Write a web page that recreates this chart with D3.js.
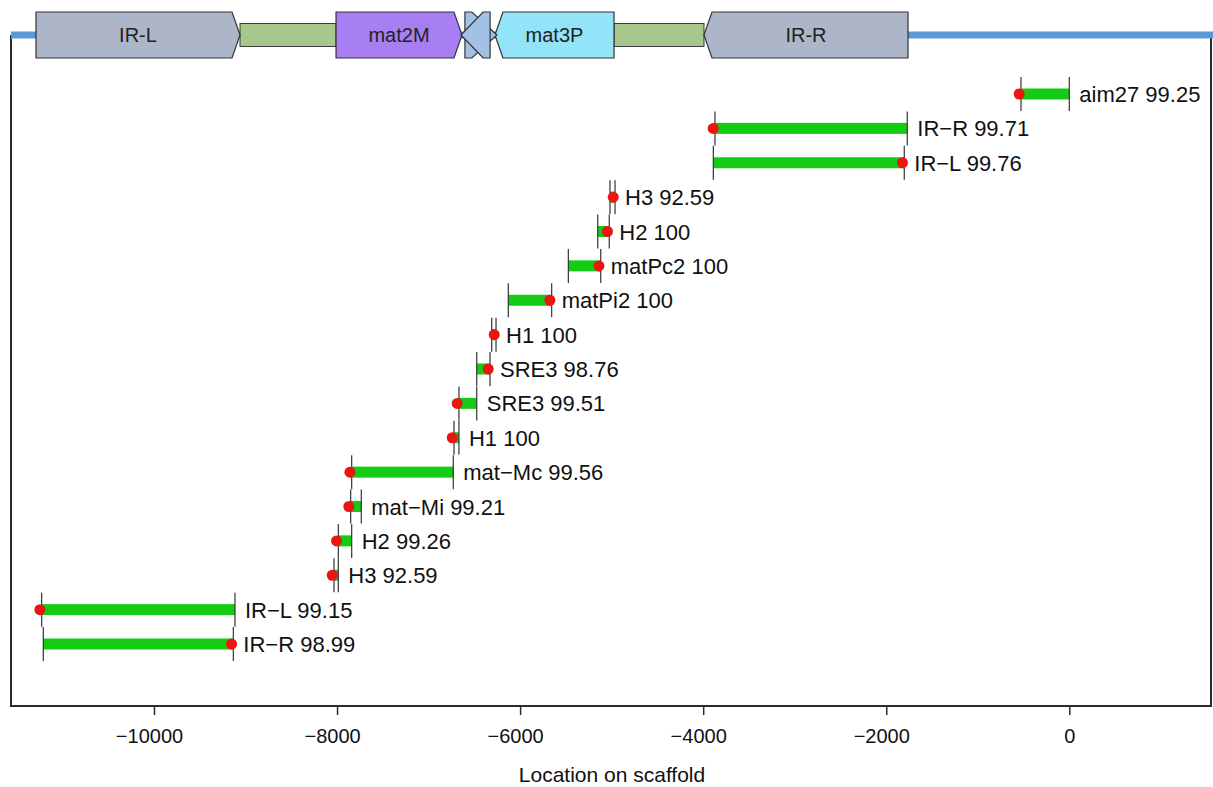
<!DOCTYPE html>
<html>
<head>
<meta charset="utf-8">
<script src="https://cdn.jsdelivr.net/npm/d3@7/dist/d3.min.js"></script>
<style>
  html, body { margin: 0; padding: 0; background: #ffffff; }
  svg { display: block; }
  text { font-family: "Liberation Sans", Arial, Helvetica, sans-serif; }
</style>
</head>
<body>
<svg id="chart" width="1213" height="787"></svg>
<script>
// ---------------- data ----------------
// BLAST-like hits, top row first. "hitDot" = end marked by the red dot, "hitOther" = other end
const hitNames = ["aim27", "IR\u2212R", "IR\u2212L", "H3", "H2", "matPc2", "matPi2", "H1", "SRE3", "SRE3", "H1", "mat\u2212Mc", "mat\u2212Mi", "H2", "H3", "IR\u2212L", "IR\u2212R"];
const hitIdentity = [99.25, 99.71, 99.76, 92.59, 100, 100, 100, 100, 98.76, 99.51, 100, 99.56, 99.21, 99.26, 92.59, 99.15, 98.99];
const hitDot   = [-528, -3871, -1803, -4963, -5026, -5119, -5655, -6263, -6329, -6668, -6722, -7840, -7851, -7986, -8033, -11227, -9133];
const hitOther = [0, -1770, -3889, -5018, -5152, -5473, -6129, -6310, -6474, -6474, -6668, -6730, -7735, -7840, -7986, -9115, -11209];

// gene track on the scaffold (drawing order: big features first, small overlapping ones last)
const trackNames  = ["IR-L", "mat2M", "mat3P", "IR-R", "", ""];
const trackStart  = [-11289, -8011, -6275, -3991, -6603, -6646];
const trackEnd    = [-9060, -6635, -4974, -1762, -6253, -6328];
const trackStrand = ["+", "+", "-", "-", "+", "-"];
const trackColor  = ["#adb6c8", "#a77ff3", "#93e3f9", "#adb6c8", "#a3c1e5", "#a3c1e5"];
const spacerStart = [-9060, -4974];
const spacerEnd   = [-8011, -3991];

const xTicks = [-10000, -8000, -6000, -4000, -2000, 0];
const xDomain = [-11562, 1559];
const xTitle = "Location on scaffold";

// ---------------- layout ----------------
const svg = d3.select("#chart");
const plotL = 11, plotR = 1211, plotB = 706, plotT = 35;

const x = d3.scaleLinear().domain(xDomain).range([plotL, plotR + 1]);
const y = d3.scalePoint().domain(d3.range(hitNames.length)).range([94, 644]);

svg.append("rect").attr("width", 1213).attr("height", 787).attr("fill", "#fff");

// frame
const frame = svg.append("g").attr("stroke", "#2b2b2b").attr("stroke-width", 2).attr("fill", "none");
frame.append("line").attr("x1", plotL).attr("x2", plotL).attr("y1", plotT).attr("y2", plotB + 1);
frame.append("line").attr("x1", plotR).attr("x2", plotR).attr("y1", plotT).attr("y2", plotB + 1);
frame.append("line").attr("x1", plotL).attr("x2", plotR).attr("y1", plotB).attr("y2", plotB);

// axis
const axis = d3.axisBottom(x).tickValues(xTicks).tickSize(9).tickPadding(14)
  .tickFormat(d => d < 0 ? "\u2212" + Math.abs(d) : String(d));
const ag = svg.append("g").attr("transform", `translate(0,${plotB})`).call(axis);
ag.select(".domain").remove();
ag.selectAll(".tick line").attr("stroke", "#2b2b2b").attr("stroke-width", 1.5);
ag.selectAll(".tick text").attr("font-size", 20).attr("fill", "#111")
  .attr("dx", d => d < 0 ? -5 : 0)
  .style("font-family", '"Liberation Sans", Arial, sans-serif');

svg.append("text").attr("x", 612).attr("y", 782).attr("text-anchor", "middle")
  .attr("font-size", 21).attr("fill", "#111").text(xTitle);

// ---------------- gene track ----------------
const trackY = 35, trackH = 46;
svg.append("line").attr("x1", plotL).attr("x2", 1213).attr("y1", trackY).attr("y2", trackY)
  .attr("stroke", "#5a9ad4").attr("stroke-width", 7);

spacerStart.forEach((s, i) => {
  svg.append("rect").attr("x", x(s)).attr("y", trackY - 11.5)
    .attr("width", x(spacerEnd[i]) - x(s)).attr("height", 23)
    .attr("fill", "#a8c78c").attr("stroke", "#3a3a3a").attr("stroke-width", 1);
});

trackNames.forEach((name, i) => {
  const a = x(trackStart[i]), b = x(trackEnd[i]);
  const len = b - a;
  const head = len > 60 ? 8 : len - 7;
  const t = trackY - trackH / 2, bt = trackY + trackH / 2;
  let pts;
  if (trackStrand[i] === "+") {
    pts = [[a, t], [b - head, t], [b, trackY], [b - head, bt], [a, bt]];
  } else {
    pts = [[b, t], [a + head, t], [a, trackY], [a + head, bt], [b, bt]];
  }
  svg.append("polygon").attr("points", pts.map(p => p.join(",")).join(" "))
    .attr("fill", trackColor[i]).attr("stroke", "#333").attr("stroke-width", 1.2)
    .attr("stroke-linejoin", "miter");
  if (name) {
    svg.append("text").attr("x", (a + b) / 2).attr("y", trackY + 7)
      .attr("text-anchor", "middle").attr("font-size", 20).attr("fill", "#222").text(name);
  }
});

// ---------------- hits ----------------
const g = svg.append("g");
hitNames.forEach((name, i) => {
  const cy = y(i);
  const lo = Math.min(hitDot[i], hitOther[i]), hi = Math.max(hitDot[i], hitOther[i]);
  g.append("rect").attr("x", x(lo)).attr("y", cy - 5.5).attr("width", x(hi) - x(lo)).attr("height", 11)
    .attr("fill", "#14cc14");
  [hitDot[i], hitOther[i]].forEach(v => {
    g.append("line").attr("x1", x(v)).attr("x2", x(v)).attr("y1", cy - 17).attr("y2", cy + 17)
      .attr("stroke", "#333").attr("stroke-width", 1.2);
  });
  g.append("circle").attr("cx", x(hitDot[i]) - 1.8).attr("cy", cy).attr("r", 5.5).attr("fill", "#ee1414");
  g.append("text").attr("x", x(hi) + 10).attr("y", cy + 8).attr("font-size", 22).attr("fill", "#111")
    .text(name + " " + hitIdentity[i]);
});
</script>
</body>
</html>
